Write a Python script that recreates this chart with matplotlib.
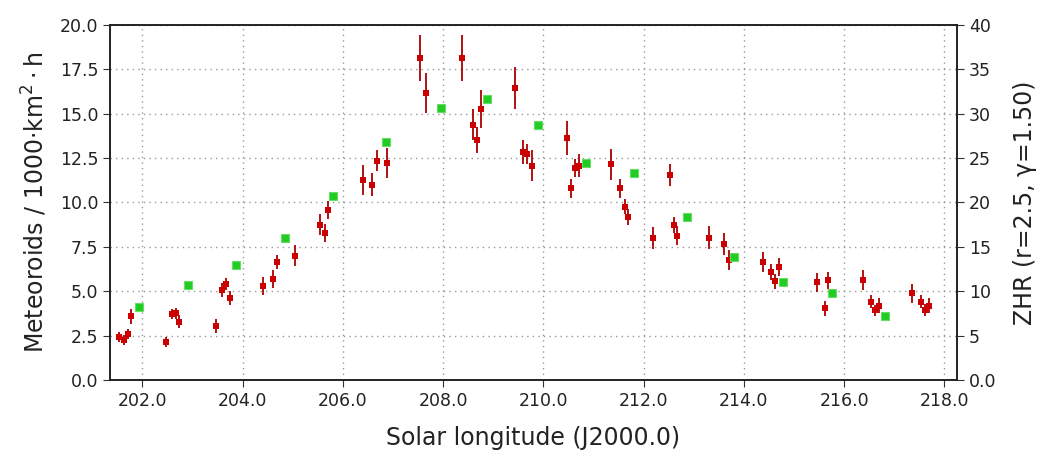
import matplotlib
matplotlib.use("Agg")
import matplotlib.pyplot as plt
import numpy as np

# Meteoroid flux data (red)
sol_flux = [201.54, 201.63, 201.71, 201.78, 202.47, 202.60, 202.68, 202.74,
            203.46, 203.58, 203.67, 203.75, 204.40, 204.61, 204.69, 205.05,
            205.55, 205.65, 205.71, 206.41, 206.58, 206.68, 206.87, 207.53,
            207.66, 208.38, 208.59, 208.67, 208.75, 209.44, 209.60, 209.68,
            209.77, 210.47, 210.56, 210.64, 210.71, 211.35, 211.52, 211.62,
            211.69, 212.19, 212.52, 212.60, 212.67, 213.31, 213.61, 213.70,
            214.38, 214.54, 214.61, 214.69, 215.45, 215.62, 215.68, 216.38,
            216.54, 216.61, 216.70, 217.36, 217.54, 217.62, 217.69]
flux = [2.44, 2.26, 2.58, 3.59, 2.16, 3.72, 3.76, 3.29,
        3.05, 5.08, 5.40, 4.61, 5.28, 5.70, 6.64, 6.99,
        8.74, 8.27, 9.57, 11.26, 11.00, 12.35, 12.22, 18.12,
        16.15, 18.12, 14.38, 13.50, 15.27, 16.41, 12.84, 12.73,
        12.07, 13.63, 10.79, 11.94, 12.07, 12.14, 10.79, 9.76,
        9.18, 8.01, 11.55, 8.72, 8.12, 8.01, 7.65, 6.77,
        6.64, 6.09, 5.55, 6.37, 5.49, 4.04, 5.62, 5.62,
        4.40, 3.93, 4.19, 4.87, 4.40, 3.93, 4.19]
flux_err = [0.28, 0.30, 0.30, 0.41, 0.28, 0.30, 0.30, 0.35,
            0.38, 0.40, 0.35, 0.40, 0.50, 0.50, 0.40, 0.60,
            0.60, 0.50, 0.50, 0.82, 0.64, 0.61, 0.84, 1.31,
            1.13, 1.31, 0.85, 0.72, 1.06, 1.18, 0.69, 0.56,
            0.87, 0.94, 0.54, 0.49, 0.66, 0.86, 0.55, 0.44,
            0.45, 0.61, 0.62, 0.44, 0.52, 0.65, 0.61, 0.56,
            0.58, 0.44, 0.40, 0.51, 0.54, 0.42, 0.47, 0.57,
            0.37, 0.31, 0.41, 0.54, 0.37, 0.34, 0.42]

# ZHR data (green)
sol_zhr = [201.93, 202.92, 203.87, 204.85, 205.81, 206.86, 207.95, 208.88,
           209.89, 210.85, 211.81, 212.86, 213.80, 214.78, 215.75, 216.82]
zhr = [8.2, 10.7, 13.0, 16.0, 20.7, 26.8, 30.6, 31.6,
       28.7, 24.4, 23.3, 18.3, 13.9, 11.0, 9.8, 7.2]

xticks = [202, 204, 206, 208, 210, 212, 214, 216, 218]

fig = plt.figure(figsize=(10.41, 4.57), dpi=100)
ax = fig.add_axes([0.1057, 0.1685, 0.8136, 0.7775])
ax2 = ax.twinx()

ax.errorbar(sol_flux, flux, yerr=flux_err, fmt='s', color='#cc0000',
            ecolor='#aa0000', markersize=5, elinewidth=1.3, capsize=3,
            capthick=1.2, markeredgewidth=0, zorder=3)
ax2.plot(sol_zhr, zhr, 's', color='#22cc22', markersize=5.5,
         markeredgewidth=0.8, markeredgecolor='#66dd66', zorder=3)

ax.set_xlim(201.355, 218.25)
ax.set_ylim(0, 20)
ax2.set_ylim(0, 40)
ax.set_xticks(xticks)
ax.set_xticklabels([f"{t:.1f}" for t in xticks])
ax.set_yticks(np.arange(0, 20.1, 2.5))
ax.set_yticklabels([f"{v:.1f}" for v in np.arange(0, 20.1, 2.5)])
ax2.set_yticks(np.arange(0, 40.1, 5))
ax2.set_yticklabels(["0.0"] + [str(int(v)) for v in np.arange(5, 40.1, 5)])

ax.grid(True, linestyle=(0, (1, 3)), color='#999999', linewidth=1.0)
for a in (ax, ax2):
    a.tick_params(labelsize=12.5, length=5, color='#333333', labelcolor='#222222')
    for s in a.spines.values():
        s.set_color('#222222')
        s.set_linewidth(1.2)

ax.set_xlabel("Solar longitude (J2000.0)", fontsize=17, color='#222222', labelpad=12)
ax.set_ylabel("Meteoroids / 1000·km$^2\\cdot$h", fontsize=17, color='#222222', labelpad=8)
ax2.set_ylabel("ZHR (r=2.5, γ=1.50)", fontsize=17, color='#222222', labelpad=12)

fig.savefig("out.png", dpi=100)
